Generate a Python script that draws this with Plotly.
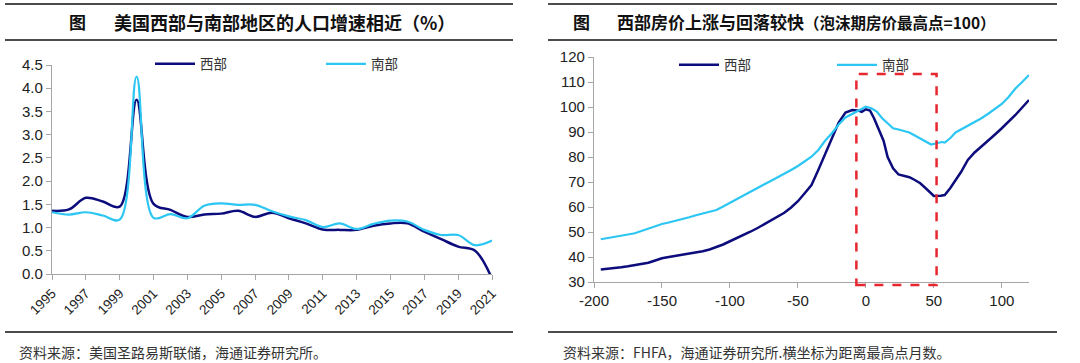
import plotly.graph_objects as go

# ---------------- Left chart data: population growth (%) ----------------
years = list(range(1995, 2022))
west_pop = [1.36, 1.39, 1.64, 1.56, 1.45, 3.75, 1.51, 1.38, 1.23, 1.28, 1.30, 1.36, 1.23,
            1.32, 1.20, 1.09, 0.96, 0.95, 0.95, 1.04, 1.09, 1.09, 0.91, 0.75, 0.59, 0.50, -0.10]
south_pop = [1.33, 1.28, 1.33, 1.26, 1.17, 4.25, 1.21, 1.29, 1.20, 1.47, 1.52, 1.49, 1.49,
             1.35, 1.24, 1.16, 1.01, 1.09, 0.97, 1.08, 1.15, 1.13, 0.95, 0.84, 0.84, 0.62, 0.72]
year_ticks = list(range(1995, 2022, 2))

# ---------------- Right chart data: house price index (bubble peak = 100) ----------------
west_m = [-195, -190, -185, -180, -175, -170, -165, -160, -155, -150, -145, -140, -135, -130,
          -125, -120, -115, -110, -105, -100, -95, -90, -85, -80, -75, -70, -65, -60, -55,
          -50, -45, -40, -35, -30, -25, -20, -15, -10, -5, -3, 0, 3, 6, 10, 13, 16, 20, 24,
          28, 32, 36, 40, 45, 50, 55, 58, 62, 66, 70, 75, 80, 85, 90, 95, 100, 105, 110, 115, 120]
west_hpi = [35.0, 35.2, 35.5, 35.9, 36.3, 36.8, 37.2, 37.7, 38.6, 39.5, 40.0, 40.4, 41.0, 41.5,
            41.9, 42.3, 43.0, 43.9, 45.0, 46.3, 47.5, 48.8, 50.1, 51.5, 53.1, 54.8, 56.2, 57.7, 59.8,
            62.3, 65.5, 68.8, 74.8, 81.0, 87.5, 93.8, 97.8, 98.8, 98.5, 98.1, 99.1, 98.6, 95.5, 90.0,
            86.5, 80.0, 75.5, 73.0, 72.3, 71.9, 70.8, 69.5, 67.0, 64.4, 64.5, 64.8, 67.5, 70.5, 74.0,
            78.8, 81.8, 84.2, 86.8, 89.0, 91.5, 94.0, 96.8, 99.8, 102.8]
south_m = [-195, -190, -185, -180, -175, -170, -165, -160, -155, -150, -145, -140, -135, -130,
           -125, -120, -115, -110, -105, -100, -95, -90, -85, -80, -75, -70, -65, -60, -55,
           -50, -45, -40, -35, -30, -25, -20, -15, -10, -5, 0, 4, 8, 12, 16, 20, 24, 28, 32, 36,
           40, 45, 48, 52, 56, 58, 62, 66, 70, 75, 80, 85, 90, 95, 100, 105, 110, 115, 120]
south_hpi = [47.1, 47.5, 48.0, 48.4, 49.0, 49.5, 50.5, 51.5, 52.4, 53.2, 53.8, 54.4, 55.2, 55.9,
             56.7, 57.5, 58.2, 58.8, 60.2, 61.7, 63.2, 64.8, 66.1, 67.5, 69.0, 70.4, 71.8, 73.1, 74.8,
             76.4, 78.2, 80.1, 82.8, 86.5, 89.5, 93.0, 95.8, 97.3, 98.9, 100.1, 99.5, 98.2, 95.5, 93.5,
             91.5, 91.0, 90.3, 89.8, 88.6, 87.5, 85.8, 85.0, 85.5, 86.0, 85.8, 87.5, 89.8, 91.0,
             92.3, 93.8, 95.5, 97.3, 99.2, 101.2, 104.0, 107.4, 110.0, 112.8]
month_ticks = [-200, -150, -100, -50, 0, 50, 100]
month_tick_labels = ["-200", "-150", "-100", "-50", "0", "50", "100"]

series_names = ["西部", "南部"]
title_left = "美国西部与南部地区的人口增速相近（%）"
title_right_a = "西部房价上涨与回落较快"
title_right_b = "（泡沫期房价最高点=100）"
source_left = "资料来源：美国圣路易斯联储，海通证券研究所。"
source_right = "资料来源：FHFA，海通证券研究所.横坐标为距离最高点月数。"

W, H = 1080, 363
WEST_C = "#0c0c7c"
SOUTH_C = "#2cc6f2"
CJK = "Noto Sans CJK SC"
NUM = "Liberation Sans, Arial"


def px(xp):
    return xp / W


def py(yp):
    return 1 - yp / H


fig = go.Figure()
fig.add_trace(go.Scatter(x=years, y=west_pop, name=series_names[0], mode="lines",
                         line=dict(color=WEST_C, width=2.5, shape="spline", smoothing=1.0),
                         xaxis="x", yaxis="y", legend="legend"))
fig.add_trace(go.Scatter(x=years, y=south_pop, name=series_names[1], mode="lines",
                         line=dict(color=SOUTH_C, width=2.2, shape="spline", smoothing=1.0),
                         xaxis="x", yaxis="y", legend="legend"))
fig.add_trace(go.Scatter(x=west_m, y=west_hpi, name=series_names[0], mode="lines",
                         line=dict(color=WEST_C, width=2.5),
                         xaxis="x2", yaxis="y2", legend="legend2"))
fig.add_trace(go.Scatter(x=south_m, y=south_hpi, name=series_names[1], mode="lines",
                         line=dict(color=SOUTH_C, width=2.2),
                         xaxis="x2", yaxis="y2", legend="legend2"))

axis_common = dict(showgrid=False, zeroline=False, showline=True, linecolor="#a6a6a6",
                   linewidth=1.2, ticks="outside", tickcolor="#a6a6a6", ticklen=5,
                   automargin=False,
                   tickfont=dict(family=NUM, size=15, color="#222222"))

legend_common = dict(orientation="h", font=dict(family=CJK, size=13.5, color="#333333"),
                     bgcolor="rgba(0,0,0,0)", itemwidth=40, entrywidthmode="pixels",
                     xanchor="left", yanchor="middle", tracegroupgap=0,
                     itemclick=False)

fig.update_layout(
    width=W, height=H, autosize=False,
    margin=dict(l=0, r=0, t=0, b=0, autoexpand=False),
    paper_bgcolor="white", plot_bgcolor="white",
    xaxis=dict(domain=[px(52), px(492)], range=[1995, 2021], tickvals=year_ticks,
               tickangle=-45, anchor="y", **{**axis_common,
                                              "tickfont": dict(family=NUM, size=13.5, color="#222222")}),
    yaxis=dict(domain=[py(274), py(65)], range=[0, 4.5], dtick=0.5, tickformat=".1f",
               anchor="x", **axis_common),
    xaxis2=dict(domain=[px(594), px(1029)], range=[-200, 120], tickvals=month_ticks,
                ticktext=month_tick_labels, anchor="y2", **axis_common),
    yaxis2=dict(domain=[py(282), py(57)], range=[30, 120], dtick=10, anchor="x2", **axis_common),
    legend=dict(x=px(150), y=py(64), entrywidth=116, **legend_common),
    legend2=dict(x=px(674), y=py(65), entrywidth=103, **legend_common),
    showlegend=True,
)

# red dashed highlight box on the right chart
fig.add_shape(type="rect", xref="x2", yref="paper", x0=-7, x1=52, y0=py(285), y1=py(74),
              line=dict(color="#e8262e", width=2.5, dash="dash"), fillcolor="rgba(0,0,0,0)")

# rules above/below titles and above sources
for x0, x1 in [(5, 513), (548, 1057)]:
    for yy in [4, 40, 332]:
        fig.add_shape(type="line", xref="paper", yref="paper", x0=px(x0), x1=px(x1),
                      y0=py(yy), y1=py(yy), line=dict(color="#111111", width=1.5))

# titles
title_right = title_right_a + "<span style='font-size:15.5px'>" + title_right_b + "</span>"
for xfig, xtxt, txt, fs in [(78, 112, title_left, 18), (581, 615, title_right, 17)]:
    fig.add_annotation(x=px(xfig), y=py(22), xref="paper", yref="paper", text="<b>图</b>",
                       showarrow=False, xanchor="center", yanchor="middle",
                       font=dict(family=CJK, size=17, color="#111111"))
    fig.add_annotation(x=px(xtxt), y=py(22), xref="paper", yref="paper", text="<b>" + txt + "</b>",
                       showarrow=False, xanchor="left", yanchor="middle",
                       font=dict(family=CJK, size=fs, color="#111111"))

# sources
for xs, txt in [(17, source_left), (561, source_right)]:
    fig.add_annotation(x=px(xs), y=py(352), xref="paper", yref="paper", text=txt,
                       showarrow=False, xanchor="left", yanchor="middle",
                       font=dict(family=CJK, size=14, color="#333333"))

fig.write_html("out.html", config={"displayModeBar": False, "displaylogo": False},
               post_script="document.body.style.margin='0px';")
